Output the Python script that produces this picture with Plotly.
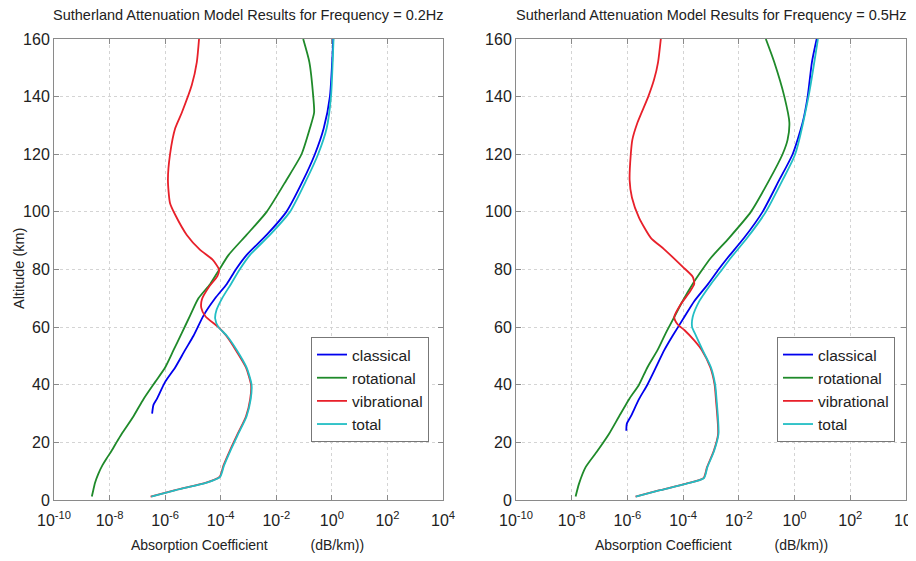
import plotly.graph_objects as go

# ---------------- data: 0.2 Hz (left panel) ----------------
alt_class_02 = [160, 140, 129, 120, 111, 100, 92, 85, 80, 75, 70, 64, 57, 52, 46, 41, 35, 33, 30]
class_02 = [1.12, 0.85, 0.51, 0.245, 9.3e-2, 2.3e-2, 4.5e-3, 8.5e-4, 3.5e-4, 1.66e-4, 6.3e-5,
            2.4e-5, 1.05e-5, 5.2e-6, 2.3e-6, 1.0e-6, 5.0e-7, 3.8e-7, 3.4e-7]

alt_rot_02 = [160, 152, 140, 134.5, 129, 120, 111, 100, 92, 85, 80, 75, 70, 64, 58, 52, 46, 41,
              35, 29, 23, 20, 17, 14.5, 12, 9, 6, 3.5, 1.2]
rot_02 = [9.3e-2, 0.155, 0.214, 0.23, 0.162, 8.1e-2, 2.3e-2, 4.5e-3, 8.5e-4, 1.9e-4, 8.9e-5,
          4.2e-5, 1.58e-5, 7.9e-6, 4.0e-6, 2.0e-6, 1.0e-6, 4.4e-7, 1.66e-7, 7.2e-8, 2.75e-8,
          1.78e-8, 1.17e-8, 7.9e-9, 5.5e-9, 3.9e-9, 3.0e-9, 2.6e-9, 2.3e-9]

alt_vib_02 = [160, 152, 144, 134.5, 129, 120, 111, 103, 99, 92, 87, 83.5, 80, 77.7, 74, 69.6,
              66.7, 63.8, 60, 57, 52, 46, 40, 35, 29, 23, 17, 12, 8, 6, 3.5, 1.2]
vib_02 = [1.66e-5, 1.38e-5, 9.1e-6, 4.0e-6, 2.3e-6, 1.5e-6, 1.26e-6, 1.5e-6, 2.3e-6, 6.0e-6,
          1.74e-5, 5.0e-5, 8.7e-5, 7.6e-5, 3.8e-5, 2.1e-5, 2.0e-5, 2.8e-5, 8.3e-5, 1.58e-4,
          3.5e-4, 8.1e-4, 1.23e-3, 1.15e-3, 8.1e-4, 4.1e-4, 2.1e-4, 1.26e-4, 9.1e-5, 3.0e-5,
          2.5e-6, 3.0e-7]

alt_tot_02 = [160, 140, 129, 120, 111, 100, 92, 85, 80, 75, 70, 66, 63, 60, 57, 52, 46, 40, 35,
              29, 23, 17, 12, 8, 6, 3.5, 1.2]
tot_02 = [1.15, 0.93, 0.65, 0.32, 0.12, 3.1e-2, 5.9e-3, 1.12e-3, 4.8e-4, 2.35e-4, 1.12e-4,
          7.1e-5, 6.3e-5, 8.3e-5, 1.66e-4, 3.8e-4, 8.5e-4, 1.29e-3, 1.2e-3, 8.5e-4, 4.3e-4,
          2.2e-4, 1.32e-4, 9.5e-5, 3.16e-5, 2.6e-6, 3.16e-7]

# ---------------- data: 0.5 Hz (right panel) ----------------
alt_class_05 = [160, 152, 140, 131, 120, 111, 100, 91, 84, 80, 75, 69, 63.5, 57, 52, 46, 40, 35,
                29, 26.5, 24]
class_05 = [6.2, 4.2, 2.95, 1.95, 0.85, 0.28, 7.1e-2, 1.55e-2, 3.9e-3, 1.86e-3, 7.9e-4, 2.5e-4,
            1.1e-4, 4.2e-5, 2.1e-5, 1.05e-5, 5.2e-6, 2.6e-6, 1.32e-6, 9.5e-7, 9.1e-7]

alt_rot_05 = [160, 152, 140, 131, 125, 120, 111, 100, 91, 84, 80, 75, 69, 63.5, 58, 52, 46, 40,
              35, 29, 23, 17, 11.4, 5.6, 1.2]
rot_05 = [9.3e-2, 0.186, 0.43, 0.65, 0.56, 0.37, 0.123, 2.7e-2, 4.5e-3, 9.8e-4, 4.9e-4, 2.2e-4,
          9.5e-5, 4.8e-5, 2.4e-5, 1.2e-5, 5.2e-6, 2.6e-6, 1.15e-6, 5.0e-7, 2.2e-7, 8.3e-8,
          3.16e-8, 1.82e-8, 1.38e-8]

alt_vib_05 = [160, 152, 146, 140, 131, 125, 120, 111, 105, 98, 91, 87, 81, 77.5, 75, 72, 68,
              63.5, 61, 59, 55.4, 52, 46, 40, 35, 23, 17, 11.4, 7.6, 5.6, 3.3, 1.2]
vib_05 = [1.58e-5, 1.26e-5, 9.1e-6, 5.6e-6, 2.3e-6, 1.5e-6, 1.32e-6, 1.2e-6, 1.45e-6, 2.6e-6,
          6.9e-6, 2.1e-5, 9.5e-5, 2.2e-4, 2.5e-4, 1.66e-4, 8.3e-5, 4.8e-5, 6.3e-5, 1.1e-4,
          2.5e-4, 4.7e-4, 9.5e-4, 1.35e-3, 1.5e-3, 1.8e-3, 1.25e-3, 7.2e-4, 5.4e-4, 1.22e-4,
          1.34e-5, 1.95e-6]

alt_tot_05 = [160, 140, 120, 111, 100, 91, 84, 80, 75, 69, 63.5, 60, 57, 52, 46, 40, 35, 23, 17,
              11.4, 7.6, 5.6, 3.3, 1.2]
tot_05 = [6.9, 3.16, 1.05, 0.37, 9.3e-2, 2.0e-2, 5.1e-3, 2.5e-3, 1.0e-3, 3.8e-4, 2.2e-4, 2.1e-4,
          2.9e-4, 5.0e-4, 1.0e-3, 1.41e-3, 1.58e-3, 1.86e-3, 1.29e-3, 7.4e-4, 5.6e-4, 1.26e-4,
          1.38e-5, 2.0e-6]

series_names = ["classical", "rotational", "vibrational", "total"]
series_colors = ["#0000EE", "#1F8A2A", "#E8202A", "#22BEC4"]
titles = ["Sutherland Attenuation Model Results for Frequency = 0.2Hz",
          "Sutherland Attenuation Model Results for Frequency = 0.5Hz"]
x_tick_vals = [1e-10, 1e-8, 1e-6, 1e-4, 1e-2, 1e0, 1e2, 1e4]
x_tick_text = ["10<sup>-10</sup>", "10<sup>-8</sup>", "10<sup>-6</sup>", "10<sup>-4</sup>",
               "10<sup>-2</sup>", "10<sup>0</sup>", "10<sup>2</sup>", "10<sup>4</sup>"]
y_tick_vals = [0, 20, 40, 60, 80, 100, 120, 140, 160]

FONT = "Liberation Sans, Arial, sans-serif"

panels = [
    [(class_02, alt_class_02), (rot_02, alt_rot_02), (vib_02, alt_vib_02), (tot_02, alt_tot_02)],
    [(class_05, alt_class_05), (rot_05, alt_rot_05), (vib_05, alt_vib_05), (tot_05, alt_tot_05)],
]

fig = go.Figure()
for p, data in enumerate(panels):
    xa = "x" if p == 0 else "x2"
    ya = "y" if p == 0 else "y2"
    lg = "legend" if p == 0 else "legend2"
    for (vals, alts), name, col in zip(data, series_names, series_colors):
        fig.add_trace(go.Scatter(
            x=vals, y=alts, mode="lines", name=name,
            line=dict(color=col, width=1.8, shape="spline", smoothing=0.6),
            xaxis=xa, yaxis=ya, legend=lg, showlegend=True))

# page offset (the html body has an 8px margin)
OFF = 8
W, H = 916, 561
ML = 54 - OFF
MT = 39 - OFF
MR = W - (906 - OFF)
MB = H - (500 - OFF)
PW = W - ML - MR
PH = H - MT - MB
xdom = [[0, (443 - 54) / PW], [(516 - 54) / PW, 1]]

axis_common = dict(
    showline=True, linecolor="#8a8a8a", linewidth=1, mirror="ticks",
    ticks="inside", ticklen=5, tickcolor="#8a8a8a", automargin=False,
    showgrid=True, gridcolor="#d4d4d4", griddash="dot", gridwidth=1,
    zeroline=False, tickfont=dict(family=FONT, size=16, color="#222"),
    ticklabeloverflow="allow",
)

xt = "Absorption Coefficient" + "&nbsp;" * 11 + "(dB/km))"
for p in range(2):
    sfx = "" if p == 0 else "2"
    fig.update_layout(**{
        "xaxis" + sfx: dict(axis_common, type="log", range=[-10, 4], domain=xdom[p],
                            tickvals=x_tick_vals, ticktext=x_tick_text,
                            ticklabelstandoff=6, anchor="y" + sfx),
        "yaxis" + sfx: dict(axis_common, range=[0, 160], domain=[0, 1],
                            tickvals=y_tick_vals, anchor="x" + sfx),
    })

leg_common = dict(
    bgcolor="white", bordercolor="#777", borderwidth=1,
    font=dict(family=FONT, size=15.5, color="#222"),
    xanchor="left", yanchor="top", tracegroupgap=0, itemwidth=30,
    xref="container", yref="container",
)
fig.update_layout(
    legend=dict(leg_common, x=(311 - OFF) / W, y=1 - (337 - OFF) / H),
    legend2=dict(leg_common, x=(777 - OFF) / W, y=1 - (337 - OFF) / H),
)

def px_x(xp):
    return (xp - OFF - ML) / PW

def px_y(yp):
    return 1 - (yp - OFF - MT) / PH

for p in range(2):
    cx = [248.5, 711][p]
    fig.add_annotation(text=titles[p], xref="paper", yref="paper",
                       x=px_x(cx), y=px_y(15), xanchor="center", yanchor="middle",
                       showarrow=False, font=dict(family=FONT, size=14.5, color="#222"))
    fig.add_annotation(text=xt, xref="paper", yref="paper",
                       x=px_x([247, 711][p]), y=px_y(545), xanchor="center", yanchor="middle",
                       showarrow=False, font=dict(family=FONT, size=14, color="#222"))

fig.add_annotation(text="Altitude (km)", xref="paper", yref="paper",
                   x=px_x(19), y=px_y(269), xanchor="center", yanchor="middle",
                   textangle=-90, showarrow=False,
                   font=dict(family=FONT, size=14.5, color="#222"))

fig.update_layout(
    width=W, height=H, margin=dict(l=ML, r=MR, t=MT, b=MB, autoexpand=False),
    paper_bgcolor="white", plot_bgcolor="white",
)

fig.write_html("out.html")
